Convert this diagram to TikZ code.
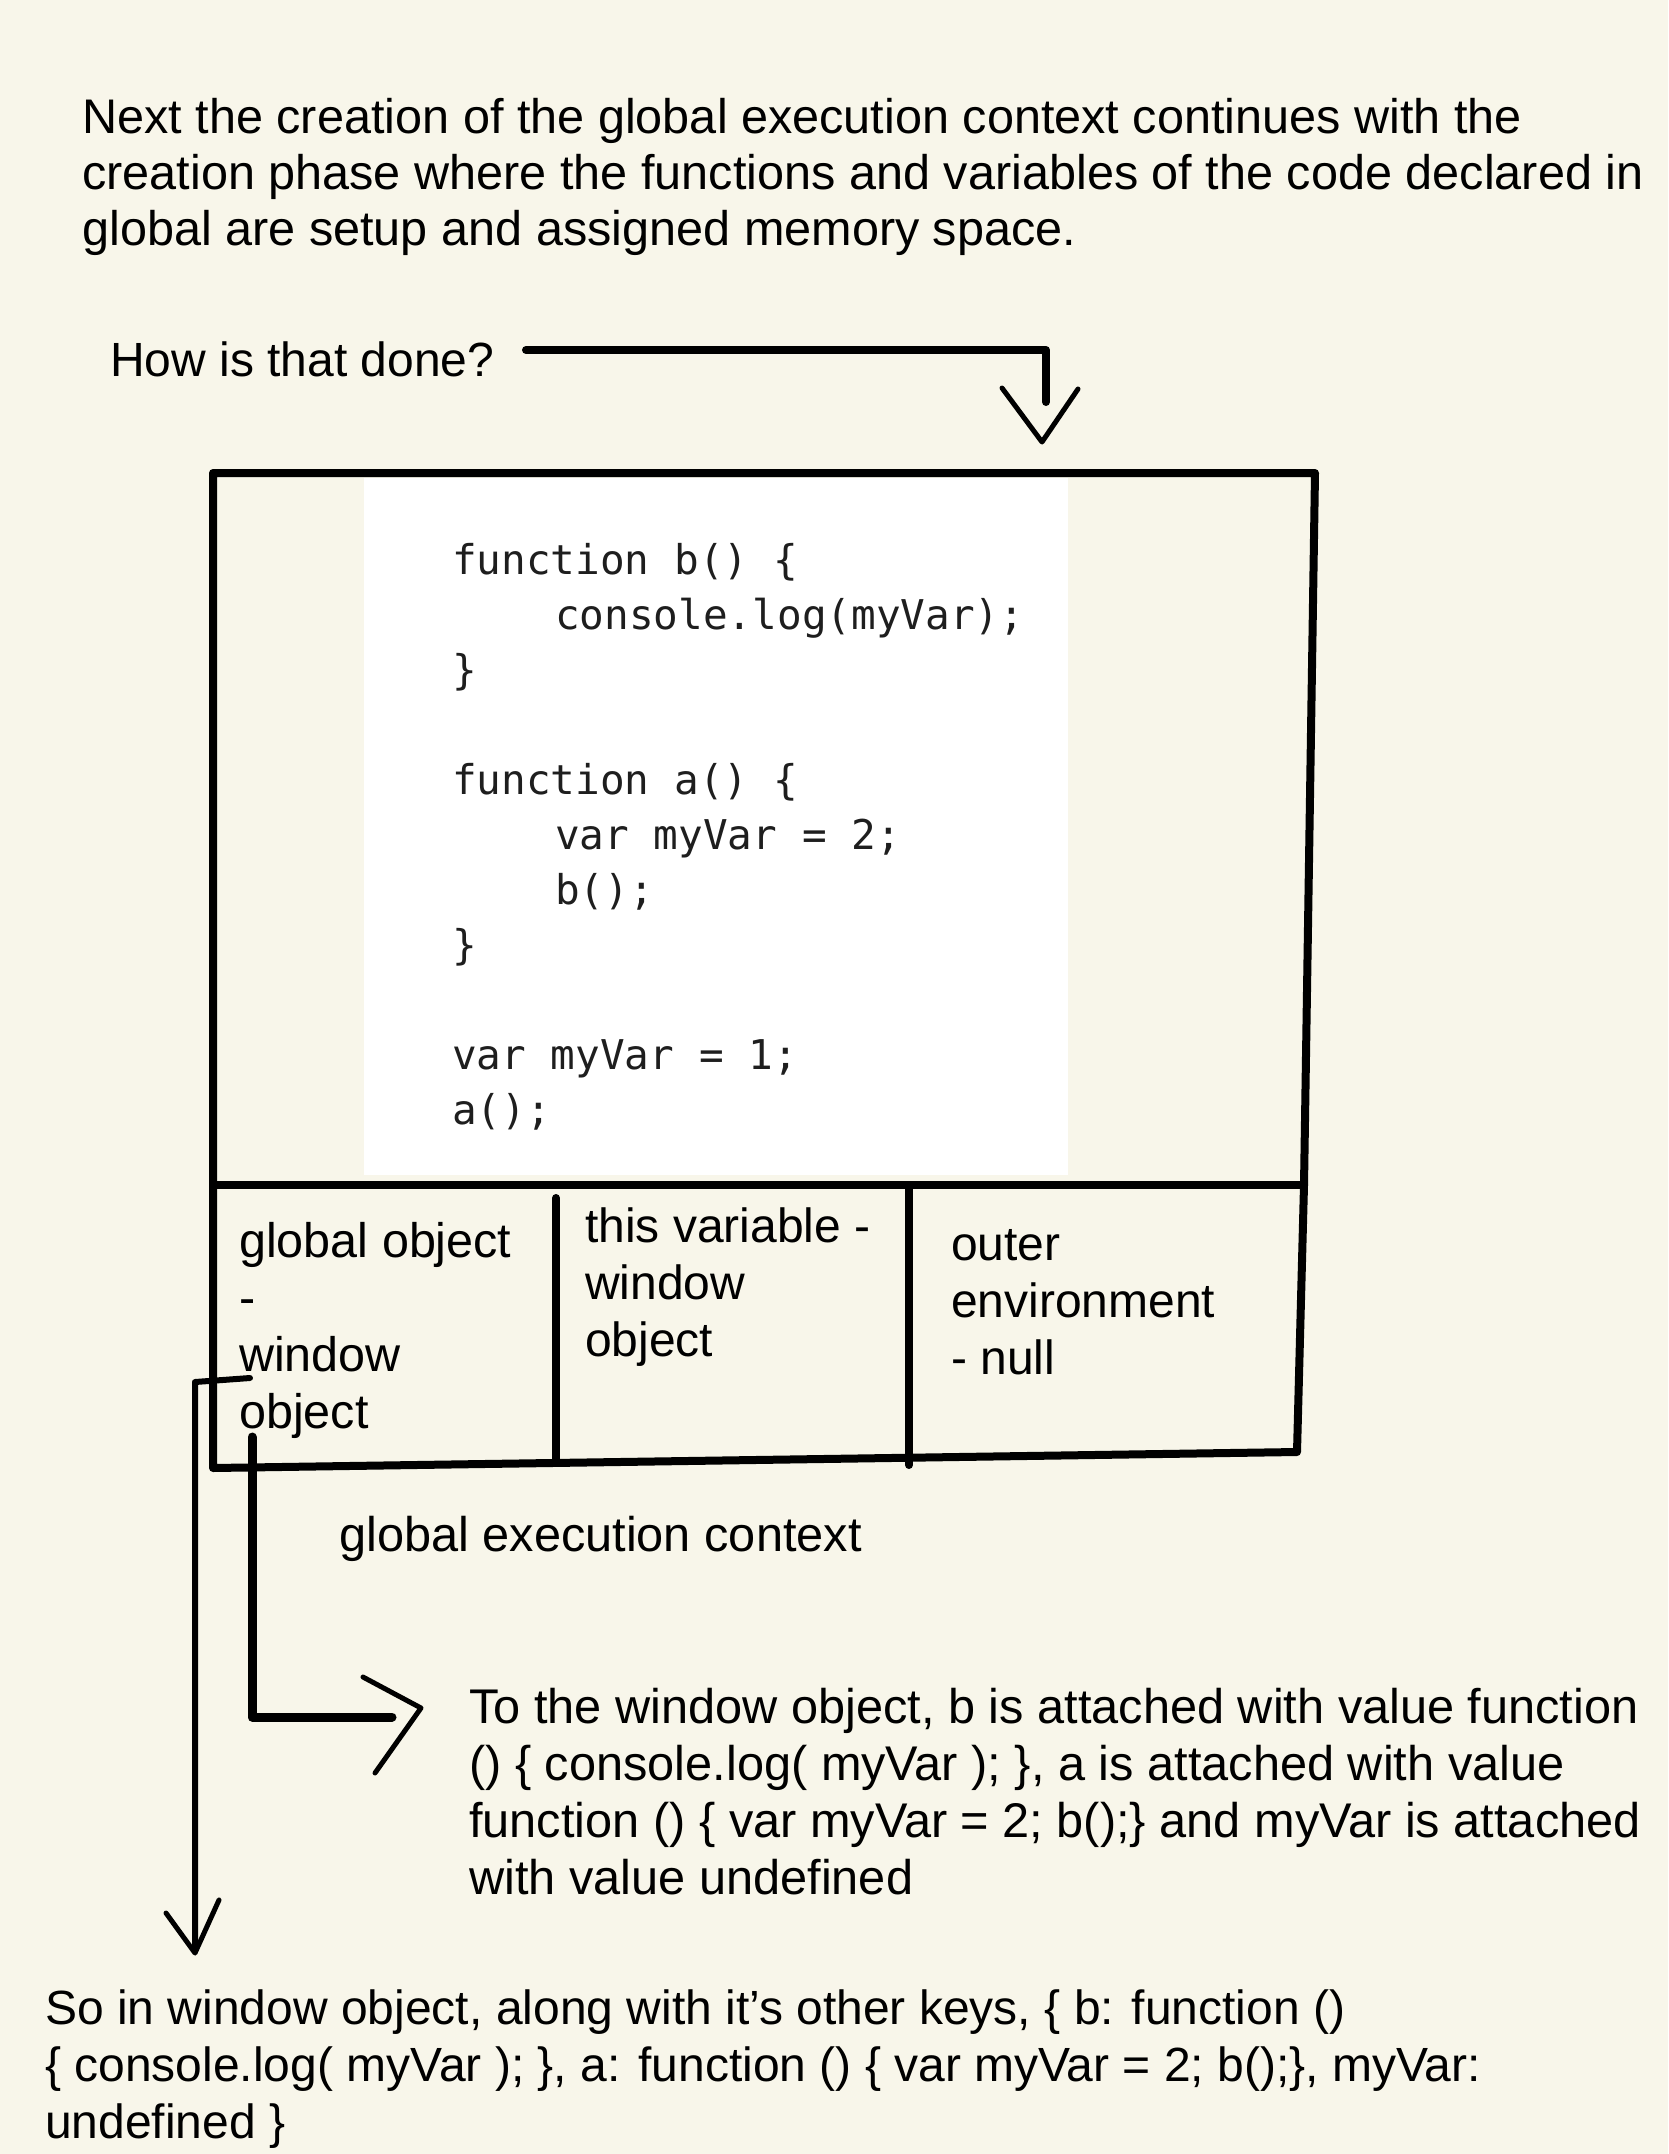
\documentclass[tikz,border=0pt]{standalone}
\usepackage{fontspec}
\usetikzlibrary{calc}
\setmainfont{Liberation Sans}
\newfontfamily\codefont{DejaVu Sans Mono}
\definecolor{bg}{HTML}{F8F6EA}
\definecolor{codeink}{HTML}{1E1E1E}
\tikzset{
  txt/.style={font=\fontsize{48}{57}\selectfont, align=left, inner sep=0pt, anchor=base west},
  codetxt/.style={font=\codefont\fontsize{41}{55}\selectfont, align=left, inner sep=0pt, anchor=base west, text=codeink},
  boxline/.style={line width=8pt, line cap=round, line join=round},
  thickconn/.style={line width=9pt, line cap=round, line join=round},
  thinconn/.style={line width=6pt, line cap=round, line join=round},
  headline/.style={line width=5pt, line cap=round, line join=round},
}
\begin{document}
\begin{tikzpicture}[x=1pt,y=-1pt]
\fill[bg] (0,0) rectangle (1668,2154);
\useasboundingbox (0,0) rectangle (1668,2154);

% top paragraph (anchor = baseline of last line)
\node[txt, font=\fontsize{48.6}{56}\selectfont] (intro) at (82,245) {Next the creation of the global execution context continues with the\\creation phase where the functions and variables of the code declared in\\global are setup and assigned memory space.};

% question + arrow
\node[txt] (how) at (110,376) {How is that done?};
\coordinate (q1) at (526,350);
\coordinate (q2) at (1046,350);
\coordinate (q3) at (1046,402);
\coordinate (qtip) at (1042,442);
\draw[thickconn, line width=8pt] (q1) -- (q2) -- (q3);
\draw[headline] ($(qtip)+(-40,-54)$) -- (qtip) -- ($(qtip)+(36,-53)$);

% code area
\fill[white] (364,478) rectangle (1068,1175);
\node[codetxt] (code) at (452,1124) {function b() \{\\\hspace*{103pt}console.log(myVar);\\\}\\[55pt]function a() \{\\\hspace*{103pt}var myVar = 2;\\\hspace*{103pt}b();\\\}\\[55pt]var myVar = 1;\\a();};

% execution context box
\coordinate (tl) at (213,473);
\coordinate (tr) at (1315,473);
\coordinate (ml) at (213,1185);
\coordinate (mr) at (1304,1185);
\coordinate (bl) at (213,1468);
\coordinate (br) at (1297,1452);
\draw[boxline] (bl) -- (tl) -- (tr) -- (mr) -- (br) -- cycle;
\draw[boxline] (ml) -- (mr);
\draw[boxline] (556,1198) -- (556,1459);
\draw[boxline] (909,1185) -- (909,1465);

\node[txt, font=\fontsize{48.5}{57}\selectfont] (glob) at (239,1428) {global object\\-\\window\\object};
\node[txt] (thisv) at (585,1356) {this variable -\\window\\object};
\node[txt] (outer) at (951,1374) {outer\\environment\\- null};
\node[txt, font=\fontsize{48.7}{57}\selectfont] (gec) at (339,1551) {global execution context};

% connector to attach text
\coordinate (c1) at (252,1437);
\coordinate (c2) at (252,1717);
\coordinate (c3) at (392,1717);
\coordinate (c3tip) at (421,1708);
\draw[thickconn] (c1) -- (c2) -- (c3);
\draw[headline] (363,1677) -- (c3tip) -- (375,1773);
\node[txt, font=\fontsize{48.7}{57}\selectfont] (attach) at (469,1894) {To the window object, b is attached with value function\\() \{ console.log( myVar ); \}, a is attached with value\\function () \{ var myVar = 2; b();\} and myVar is attached\\with value undefined};

% long connector down
\coordinate (d0) at (250,1378);
\coordinate (d1) at (195,1382);
\coordinate (d2) at (195,1950);
\coordinate (dtip) at (195,1953);
\draw[thinconn] (d0) -- (d1) -- (d2);
\draw[headline] (166,1913) -- (dtip) -- (219,1900);

\node[txt] (so) at (45,2138) {So in window object, along with it’s other keys, \{ b: function ()\\\{ console.log( myVar ); \}, a: function () \{ var myVar = 2; b();\}, myVar:\\undefined \}};
\end{tikzpicture}
\end{document}
